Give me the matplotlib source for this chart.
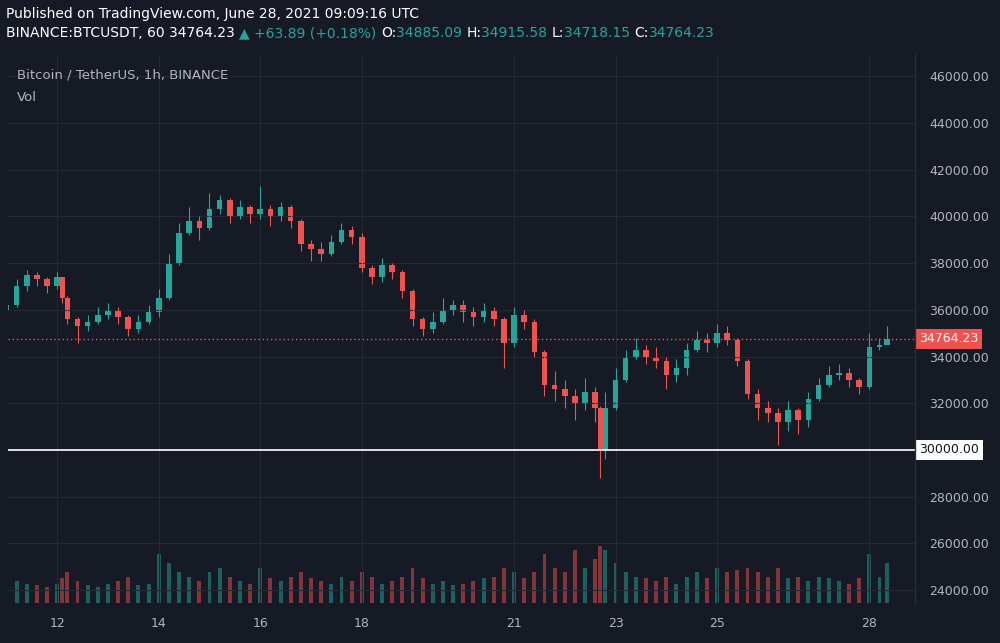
import matplotlib
matplotlib.use("Agg")
import matplotlib.pyplot as plt
import numpy as np

# time in days of June 2021, approx 4.8h candles
days = [11.0, 11.2, 11.4, 11.6, 11.8, 12.0, 12.1, 12.2, 12.4, 12.6, 12.8, 13.0, 13.2, 13.4, 13.6, 13.8,
        14.0, 14.2, 14.4, 14.6, 14.8, 15.0, 15.2, 15.4, 15.6, 15.8, 16.0, 16.2, 16.4, 16.6, 16.8,
        17.0, 17.2, 17.4, 17.6, 17.8, 18.0, 18.2, 18.4, 18.6, 18.8, 19.0, 19.2, 19.4, 19.6, 19.8,
        20.0, 20.2, 20.4, 20.6, 20.8, 21.0, 21.2, 21.4, 21.6, 21.8, 22.0, 22.2, 22.4, 22.6, 22.7,
        22.8, 23.0, 23.2, 23.4, 23.6, 23.8, 24.0, 24.2, 24.4, 24.6, 24.8, 25.0, 25.2, 25.4, 25.6,
        25.8, 26.0, 26.2, 26.4, 26.6, 26.8, 27.0, 27.2, 27.4, 27.6, 27.8, 28.0, 28.2, 28.35]
closes = [36200, 37000, 37500, 37300, 37000, 37400, 36500, 35600, 35300, 35500, 35800, 36000, 35700, 35200, 35500, 35900,
          36500, 38000, 39300, 39800, 39500, 40300, 40700, 40000, 40400, 40100, 40300, 40000, 40400, 39800, 38800,
          38600, 38400, 38900, 39400, 39100, 37800, 37400, 37900, 37600, 36800, 35600, 35200, 35500, 36000, 36200,
          35900, 35700, 36000, 35600, 34600, 35800, 35500, 34200, 32800, 32600, 32300, 32000, 32500, 31800, 30000,
          31800, 33000, 34000, 34300, 34000, 33800, 33200, 33500, 34300, 34700, 34600, 35000, 34700, 33800, 32400,
          31800, 31600, 31200, 31700, 31300, 32200, 32800, 33200, 33300, 33000, 32700, 34400, 34500, 34764]
highs = [36500, 37300, 37700, 37600, 37400, 37600, 37400, 36600, 35700, 35800, 36100, 36300, 36100, 35800, 35800, 36200,
         36900, 38400, 39700, 40400, 40000, 41000, 40900, 40800, 40700, 40500, 41300, 40500, 40600, 40500, 39900,
         39000, 38900, 39200, 39700, 39600, 39300, 37900, 38200, 38000, 37700, 36900, 35700, 35900, 36500, 36400,
         36400, 36100, 36300, 36100, 35700, 36100, 36000, 35600, 34300, 33400, 33000, 32600, 33100, 32700, 31900,
         32500, 33500, 34300, 34800, 34500, 34400, 34000, 33900, 34600, 35100, 35000, 35400, 35300, 34800, 33900,
         32600, 32100, 31800, 32100, 31800, 32500, 33100, 33600, 33700, 33500, 33100, 35000, 34800, 35300]
lows = [35900, 36100, 36800, 37000, 36700, 36900, 36300, 35400, 34600, 35100, 35400, 35600, 35400, 34900, 35000, 35400,
        35700, 36400, 37900, 39200, 39000, 39400, 40100, 39700, 39900, 39700, 39900, 39600, 39800, 39500, 38500,
        38100, 38100, 38300, 38800, 38800, 37600, 37100, 37200, 37300, 36500, 35300, 34900, 35000, 35400, 35800,
        35500, 35300, 35500, 35300, 33500, 34400, 35200, 34000, 32300, 32100, 31800, 31300, 31700, 31200, 28800,
        29600, 31700, 32900, 33900, 33700, 33500, 32600, 32900, 33200, 34200, 34200, 34400, 34500, 33600, 32200,
        31300, 31200, 30200, 30800, 30700, 31000, 32100, 32700, 33000, 32700, 32400, 32600, 34300, 34600]
volumes = [30, 25, 22, 20, 18, 22, 28, 35, 25, 20, 18, 22, 25, 30, 20, 22,
           55, 45, 35, 30, 25, 35, 40, 30, 25, 22, 40, 28, 25, 30, 35,
           28, 25, 22, 30, 25, 35, 30, 22, 25, 30, 40, 28, 22, 25, 20,
           22, 25, 28, 30, 40, 35, 28, 35, 55, 40, 35, 60, 40, 50, 65,
           60, 45, 35, 30, 28, 25, 30, 22, 30, 35, 28, 40, 35, 38, 40,
           35, 30, 40, 28, 30, 25, 30, 28, 25, 22, 28, 55, 30, 45]

price_ticks = list(range(24000, 46001, 2000))
date_ticks = [12, 14, 16, 18, 21, 23, 25, 28]
last_price = 34764.23
level_line = 30000

BG = "#161a25"
UP, DOWN = "#26a69a", "#ef5350"
GRID = "#242833"
TXT = "#b2b5be"

fig = plt.figure(figsize=(10, 6.43), dpi=100, facecolor=BG)
ax = fig.add_axes([0.008, 0.062, 0.907, 0.852], facecolor=BG)
axv = ax.twinx()
axv.set_zorder(0); ax.set_zorder(1); ax.patch.set_visible(False)
axv.patch.set_facecolor(BG)

opens = [closes[0] - 200] + closes[:-1]
w = 0.11
for t, o, h, l, c, v in zip(days, opens, highs, lows, closes, volumes):
    col = UP if c >= o else DOWN
    ax.vlines(t, l, h, color=col, lw=0.8)
    ax.bar(t, abs(c - o) or 30, bottom=min(o, c), width=w, color=col, lw=0)
    axv.bar(t, v, width=w * 0.7, color=col, alpha=0.5, lw=0)

ax.set_xlim(11.03, 28.9)
ax.set_ylim(23440, 46900)
axv.set_ylim(0, max(volumes) / 0.105)
axv.set_yticks([])

ax.yaxis.tick_right()
ax.set_yticks(price_ticks)
# the 30000 level gets its own label box below
ax.set_yticklabels(["" if p == level_line else f"{p:.2f}" for p in price_ticks])
ax.set_xticks(date_ticks)
ax.set_xticklabels([str(d) for d in date_ticks])
ax.tick_params(colors=TXT, labelsize=9, length=0, pad=10)
ax.grid(color=GRID, lw=0.8)
axv.set_xlim(ax.get_xlim())
for a in (ax, axv):
    for s in a.spines.values():
        s.set_visible(False)
fig.add_artist(plt.Line2D([0.915, 0.915], [0.062, 0.914], color="#2a2e39", lw=1))

ax.axhline(last_price, color=DOWN, ls=(0, (1, 2)), lw=1)
ax.axhline(level_line, color="white", lw=1.2)
ax.text(1.005, last_price, f"{last_price:.2f}", transform=ax.get_yaxis_transform(), va="center",
        ha="left", fontsize=9, color="white", bbox=dict(fc=DOWN, ec="none", pad=2.5))
ax.text(1.005, level_line, f"{level_line:.2f}", transform=ax.get_yaxis_transform(), va="center",
        ha="left", fontsize=9, color="#131722", bbox=dict(fc="white", ec="none", pad=2.5))

ax.text(0.01, 0.975, "Bitcoin / TetherUS, 1h, BINANCE", transform=ax.transAxes, color=TXT, fontsize=9.5, va="top")
ax.text(0.01, 0.935, "Vol", transform=ax.transAxes, color=TXT, fontsize=9.5, va="top")

fig.text(0.006, 0.978, "Published on TradingView.com, June 28, 2021 09:09:16 UTC", color="white", fontsize=10, va="center")
parts = [("BINANCE:BTCUSDT, 60 ", "white"), ("34764.23 ", "white"), ("\u25b2 +63.89 (+0.18%) ", UP),
         ("O:", "white"), ("34885.09 ", UP), ("H:", "white"), ("34915.58 ", UP),
         ("L:", "white"), ("34718.15 ", UP), ("C:", "white"), ("34764.23", UP)]
x = 0.006
fig.canvas.draw()
r = fig.canvas.get_renderer()
for s, c in parts:
    t = fig.text(x, 0.948, s, color=c, fontsize=10, va="center")
    bb = t.get_window_extent(r)
    x += bb.width / fig.bbox.width

fig.savefig("out.png", dpi=100, facecolor=BG)
